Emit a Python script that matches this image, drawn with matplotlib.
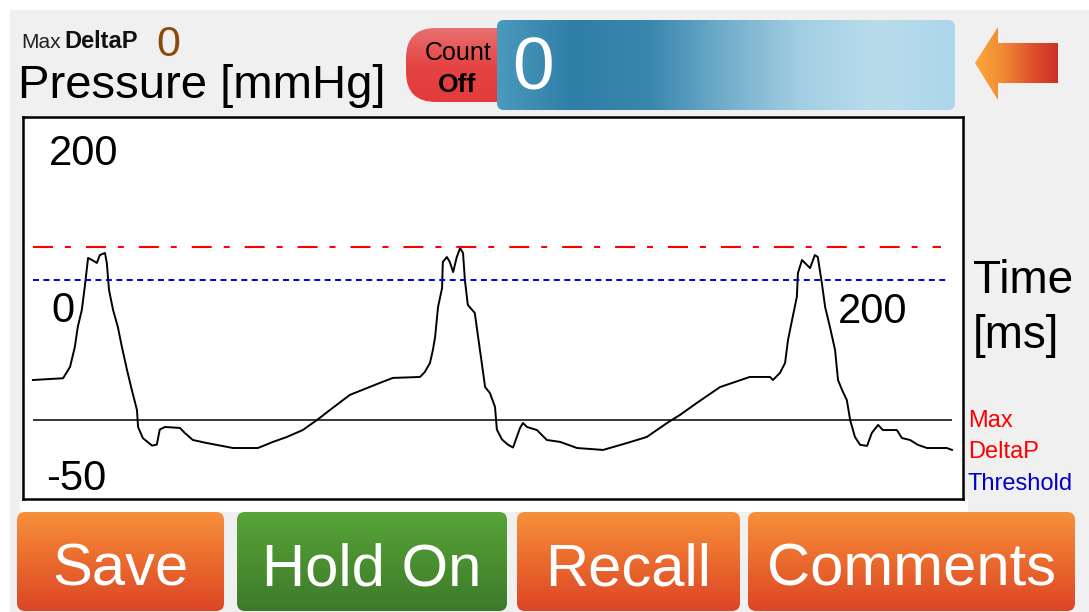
import numpy as np
import matplotlib
matplotlib.use("Agg")
import matplotlib.pyplot as plt
from matplotlib.patches import FancyBboxPatch, Polygon, Rectangle
from matplotlib.colors import LinearSegmentedColormap

plt.rcParams['font.family'] = ['Liberation Sans', 'DejaVu Sans']
plt.rcParams['lines.scale_dashes'] = False

# pressure trace (time in ms, pressure in mmHg)
time_ms = [0, 8.2, 10.1, 11.4, 12.2, 13.3, 14.1, 15.0, 16.1, 17.4,
           18.2, 19.6, 20.1, 20.7, 21.8, 23.1, 24.2, 25.6, 26.9, 28.3,
           28.6, 29.9, 32.4, 33.7, 34.5, 35.9, 40.0, 41.3, 43.5, 47.3,
           54.4, 61.2, 65.3, 69.1, 73.4, 77.3, 80.8, 86.2, 94.4, 97.9,
           105.3, 106.6, 108.0, 108.8, 109.4, 110.2, 111.3, 111.5, 112.6, 113.4,
           114.3, 115.3, 116.2, 117.0, 117.5, 118.3, 120.2, 121.1, 122.1, 123.0,
           124.3, 125.7, 126.2, 127.6, 129.2, 130.6, 132.5, 133.3, 134.4, 137.1,
           139.8, 143.4, 148.0, 155.1, 161.6, 167.0, 172.5, 176.0, 180.6, 186.9,
           195.0, 200.5, 201.3, 203.2, 204.6, 205.4, 206.5, 207.8, 208.1, 209.2,
           211.4, 212.7, 213.5, 214.6, 215.5, 216.8, 218.2, 219.0, 220.1, 221.4,
           222.3, 223.6, 225.0, 226.9, 228.2, 229.9, 231.2, 235.0, 236.4, 238.6,
           240.7, 243.2, 248.6, 250.0]
pressure_mmhg = [24.8, 25.9, 33.0, 45.4, 57.9, 68.5, 82.8, 100.9, 99.6, 97.8,
                 102.7, 104.0, 97.8, 80.9, 68.5, 57.9, 45.4, 31.0, 18.6, 6.1,
                 -4.5, -11.4, -16.1, -15.5, -6.1, -4.5, -5.1, -8.2, -12.6, -14.5,
                 -17.6, -17.6, -13.8, -10.7, -6.4, -0.1, 6.1, 15.5, 23.0, 26.1,
                 26.7, 29.8, 35.4, 43.5, 51.6, 70.3, 82.2, 98.4, 101.5, 98.4,
                 92.1, 101.5, 107.1, 104.0, 87.2, 71.6, 66.6, 51.6, 35.4, 20.4,
                 16.7, 8.0, -6.1, -12.3, -15.5, -17.3, -5.1, -2.0, -4.5, -6.4,
                 -12.6, -13.8, -17.6, -18.8, -14.5, -10.7, -2.0, 3.0, 10.5, 20.4,
                 26.7, 26.7, 24.8, 29.2, 35.4, 49.8, 62.2, 76.6, 91.5, 99.6,
                 94.6, 102.7, 101.5, 85.3, 70.3, 57.9, 43.5, 24.8, 18.6, 12.3,
                 -0.1, -10.7, -15.6, -16.3, -8.2, -3.2, -6.4, -6.4, -11.4, -12.6,
                 -15.6, -17.6, -17.6, -18.8]

max_deltap_level = 108
threshold_level = 87
baseline_level = 0

y_tick_labels = ["200", "-50"]
x_tick_labels = ["0", "200"]
button_labels = ["Save", "Hold On", "Recall", "Comments"]
max_deltap_value = "0"
count_value = "0"

W, H = 1089, 612
fig = plt.figure(figsize=(W / 100, H / 100), dpi=100)
fig.patch.set_facecolor("white")

# background layer in pixel coordinates (y down)
bg = fig.add_axes([0, 0, 1, 1])
bg.set_xlim(0, W)
bg.set_ylim(H, 0)
bg.axis("off")


def gradient_box(x0, y0, w, h, colors, radius=8, horizontal=False, zorder=2):
    patch = FancyBboxPatch((x0 + radius, y0 + radius), w - 2 * radius, h - 2 * radius,
                           boxstyle=f"round,pad={radius}", fc="none", ec="none", zorder=zorder)
    bg.add_patch(patch)
    cmap = LinearSegmentedColormap.from_list("g", colors)
    grad = np.linspace(0, 1, 256)
    grad = grad.reshape(1, -1) if horizontal else grad.reshape(-1, 1)
    im = bg.imshow(grad, cmap=cmap, extent=(x0, x0 + w, y0 + h, y0), aspect="auto",
                   origin="upper", zorder=zorder, interpolation="bilinear")
    im.set_clip_path(patch)
    return patch


bg.add_patch(Rectangle((10, 10), W - 10, H - 10, fc="#f0f0f0", ec="none", zorder=0))
bg.add_patch(Rectangle((20, 499), 948, 13, fc="white", ec="none", zorder=1))

# header texts
bg.text(21, 48, "Max", fontsize=15, color="#222222", va="baseline")
bg.text(64, 48, "DeltaP", fontsize=17, fontweight="bold", color="#111111", va="baseline")
bg.text(156, 56, max_deltap_value, fontsize=31, color="#8a4a0a", va="baseline")
bg.text(18, 98, "Pressure [mmHg]", fontsize=34, color="black", va="baseline")

# count pill + counter bar
gradient_box(406, 28, 130, 74, ["#e77070", "#e54545", "#e43a3a"], radius=30, zorder=2)
bg.text(458, 60, "Count", fontsize=18, color="black", ha="center", va="baseline", zorder=5)
bg.text(457, 92, "Off", fontsize=19, fontweight="bold", color="black", ha="center",
        va="baseline", zorder=5)
gradient_box(497, 20, 458, 90,
             ["#4c99be", "#2f7ea6", "#3987ad", "#72aecb", "#a3cfe3", "#b9dced", "#acd6ea"],
             radius=7, horizontal=True, zorder=3)
bg.text(512, 90, count_value, fontsize=54, color="white", va="baseline", zorder=5)

# arrow
arrow = Polygon([(975, 63), (998, 27), (998, 43), (1058, 43), (1058, 83), (998, 83), (998, 100)],
                closed=True, fc="none", ec="none", zorder=2)
bg.add_patch(arrow)
acmap = LinearSegmentedColormap.from_list("a", ["#fba83c", "#f08a34", "#e0552d", "#cc2e28"])
aim = bg.imshow(np.linspace(0, 1, 256).reshape(1, -1), cmap=acmap,
                extent=(975, 1058, 100, 27), aspect="auto", origin="upper", zorder=2)
aim.set_clip_path(arrow)

# right side labels
bg.text(973, 293, "Time", fontsize=33, color="black", va="baseline")
bg.text(973, 348, "[ms]", fontsize=33, color="black", va="baseline")
bg.text(968, 427, "Max", fontsize=17, color="#ff0000", va="baseline")
bg.text(968, 458, "DeltaP", fontsize=17, color="#ff0000", va="baseline")
bg.text(968, 490, "Threshold", fontsize=17, color="#0000cc", va="baseline")

# bottom buttons
btn_x = [17, 237, 517, 748]
btn_w = [207, 270, 223, 327]
btn_colors = [["#f7913a", "#ea6a2e", "#dc4526"],
              ["#57a437", "#4a8f30", "#3d7a2b"],
              ["#f7913a", "#ea6a2e", "#dc4526"],
              ["#f7913a", "#ea6a2e", "#dc4526"]]
for x0, w, cols, lab in zip(btn_x, btn_w, btn_colors, button_labels):
    gradient_box(x0, 512, w, 99, cols, radius=8, zorder=2)
    bg.text(x0 + w / 2, 586, lab, fontsize=43, color="white", ha="center", va="baseline", zorder=5)

bg.set_xlim(0, W)
bg.set_ylim(H, 0)

# the pressure plot
ax = fig.add_axes([23 / W, (H - 499) / H, 940 / W, 382 / H])
ax.set_facecolor("white")
ax.plot(time_ms, pressure_mmhg, color="black", lw=1.4)
ax.hlines(baseline_level, 0, 250, color="black", lw=1.1)
ax.hlines(max_deltap_level, 0, 247, color="#ff0000", lw=1.5,
          linestyles=[(0, (14.4, 8.6, 4.3, 10.8))])
ax.hlines(threshold_level, 0, 248.6, color="#0000dd", lw=1.4,
          linestyles=[(0, (4.3, 3.2))])
ax.set_xlim(-2.7, 253.0)
ax.set_ylim(-49.4, 188.8)
ax.set_xticks([])
ax.set_yticks([])
for s in ax.spines.values():
    s.set_linewidth(1.8)
    s.set_color("black")

# value labels inside the box, placed in screen pixels
ax.text(49, 165, y_tick_labels[0], fontsize=30, transform=bg.transData, va="baseline")
ax.text(46, 490, y_tick_labels[1], fontsize=30, transform=bg.transData, va="baseline")
ax.text(51, 322, x_tick_labels[0], fontsize=30, transform=bg.transData, va="baseline")
ax.text(838, 323, x_tick_labels[1], fontsize=30, transform=bg.transData, va="baseline")

fig.savefig("out.png", dpi=100)
